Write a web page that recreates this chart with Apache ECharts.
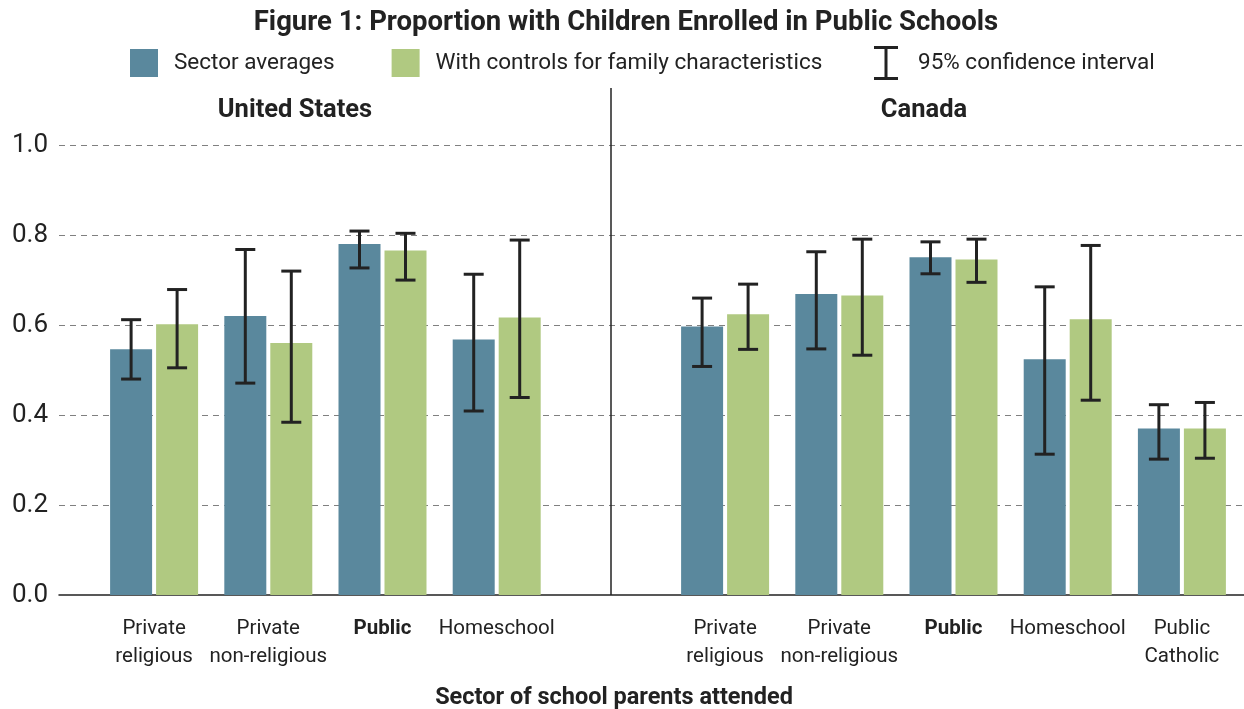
<!DOCTYPE html>
<html>
<head>
<meta charset="utf-8">
<script src="https://cdn.jsdelivr.net/npm/echarts@6/dist/echarts.min.js"></script>
<style>
  html, body { margin: 0; padding: 0; background: #fff; }
  #chart { width: 1244px; height: 709px; }
</style>
</head>
<body>
<div id="chart"></div>
<script>
// categories of each panel
const usSectors = ['Private\nreligious', 'Private\nnon-religious', 'Public', 'Homeschool']
const caSectors = ['Private\nreligious', 'Private\nnon-religious', 'Public', 'Homeschool', 'Public\nCatholic']

// sector averages
const usAverage = [0.546, 0.620, 0.780, 0.568]
const usAverageLow = [0.480, 0.471, 0.727, 0.409]
const usAverageHigh = [0.612, 0.768, 0.809, 0.713]
const caAverage = [0.597, 0.669, 0.751, 0.524, 0.370]
const caAverageLow = [0.508, 0.547, 0.714, 0.313, 0.302]
const caAverageHigh = [0.660, 0.763, 0.785, 0.685, 0.423]

// with controls for family characteristics
const usControlled = [0.602, 0.560, 0.766, 0.617]
const usControlledLow = [0.505, 0.384, 0.700, 0.439]
const usControlledHigh = [0.679, 0.720, 0.804, 0.789]
const caControlled = [0.624, 0.666, 0.746, 0.613, 0.370]
const caControlledLow = [0.546, 0.533, 0.695, 0.433, 0.304]
const caControlledHigh = [0.691, 0.791, 0.791, 0.777, 0.428]

const yTicks = [0, 0.2, 0.4, 0.6, 0.8, 1.0]

const FONT = 'Roboto, "Noto Sans", sans-serif'
const INK = '#222'
const BLUE = '#5a889d'
const GREEN = '#b0c981'

// one empty slot between the two panels
const categories = [...usSectors, ' ', ...caSectors]
const join = (a, b) => [...a, null, ...b]
const averages = join(usAverage, caAverage)
const controlled = join(usControlled, caControlled)
const toRanges = (low, high) =>
  low.map((v, i) => (v == null ? null : [i, v, high[i]])).filter((d) => d)
const averageRanges = toRanges(join(usAverageLow, caAverageLow), join(usAverageHigh, caAverageHigh))
const controlledRanges = toRanges(join(usControlledLow, caControlledLow), join(usControlledHigh, caControlledHigh))

const errorBar = (offset) => (params, api) => {
  const top = api.coord([api.value(0), api.value(2)])
  const bot = api.coord([api.value(0), api.value(1)])
  const x = top[0] + offset
  const style = { stroke: INK, lineWidth: 3 }
  return {
    type: 'group',
    children: [
      { type: 'line', shape: { x1: x, y1: top[1], x2: x, y2: bot[1] }, style },
      { type: 'line', shape: { x1: x - 10, y1: top[1], x2: x + 10, y2: top[1] }, style },
      { type: 'line', shape: { x1: x - 10, y1: bot[1], x2: x + 10, y2: bot[1] }, style },
    ],
  }
}

const chart = echarts.init(document.getElementById('chart'))
const yMax = 1.127
const option = {
  backgroundColor: '#fff',
  animation: false,
  textStyle: { fontFamily: FONT, color: INK },
  title: [
    {
      text: 'Figure 1: Proportion with Children Enrolled in Public Schools',
      left: 621, top: 4, textAlign: 'center',
      textStyle: { fontSize: 27.5, fontWeight: 'bold', color: INK, fontFamily: FONT },
    },
    {
      text: 'United States', left: 290, top: 93, textAlign: 'center',
      textStyle: { fontSize: 25.5, fontWeight: 'bold', color: INK, fontFamily: FONT },
    },
    {
      text: 'Canada', left: 919, top: 93, textAlign: 'center',
      textStyle: { fontSize: 25.5, fontWeight: 'bold', color: INK, fontFamily: FONT },
    },
    {
      text: 'Sector of school parents attended', left: 609, top: 681, textAlign: 'center',
      textStyle: { fontSize: 23.5, fontWeight: 'bold', color: INK, fontFamily: FONT },
    },
  ],
  legend: [
    {
      left: 125, top: 44, itemWidth: 28, itemHeight: 28, itemGap: 57, icon: 'rect',
      data: ['Sector averages', 'With controls for family characteristics'],
      textStyle: { fontSize: 22.5, color: INK, fontFamily: FONT, padding: [0, 0, 0, 11] },
    },
    {
      left: 869, top: 41, itemWidth: 24, itemHeight: 34,
      data: [{
        name: '95% confidence interval',
        icon: 'path://M0,0H24V3H13.5V31H24V34H0V31H10.5V3H0Z',
      }],
      textStyle: { fontSize: 22.5, color: INK, fontFamily: FONT, padding: [0, 0, 0, 15] },
    },
  ],
  grid: [
    { left: 59, right: 0, top: 88, bottom: 114 },
    { left: 97, right: 5, top: 88, bottom: 114 },
  ],
  xAxis: [
    {
      gridIndex: 0, type: 'value', min: 0, max: 1,
      axisLine: { show: true, lineStyle: { color: INK, width: 1.5 } },
      axisTick: { show: false }, axisLabel: { show: false }, splitLine: { show: false },
    },
    {
      gridIndex: 1, type: 'category', data: categories,
      axisLine: { show: false }, axisTick: { show: false },
      axisLabel: {
        interval: 0, margin: 20, fontSize: 20.5, lineHeight: 28, color: INK, fontFamily: FONT,
        formatter: (v) => (v === 'Public' ? '{b|Public}' : v),
        rich: { b: { fontWeight: 'bold', fontSize: 20.5, lineHeight: 28, color: INK, fontFamily: FONT } },
      },
    },
  ],
  yAxis: [
    {
      gridIndex: 0, type: 'value', min: 0, max: yMax, interval: 0.2,
      axisLine: { show: false }, axisTick: { show: false },
      axisLabel: {
        fontSize: 26, color: INK, margin: 11, fontFamily: FONT,
        formatter: (v) => (yTicks.some((t) => Math.abs(t - v) < 1e-6) ? v.toFixed(1) : ''),
      },
      splitLine: {
        showMinLine: false, showMaxLine: false,
        lineStyle: { color: '#808080', type: [6, 5], width: 1 },
      },
    },
    {
      gridIndex: 1, type: 'value', min: 0, max: yMax, interval: 0.2,
      show: false, splitLine: { show: false },
    },
  ],
  series: [
    {
      name: 'Sector averages', type: 'bar', xAxisIndex: 1, yAxisIndex: 1,
      data: averages, barWidth: 42, barGap: '9.5%',
      itemStyle: { color: BLUE },
    },
    {
      name: 'With controls for family characteristics', type: 'bar', xAxisIndex: 1, yAxisIndex: 1,
      data: controlled, barWidth: 42,
      itemStyle: { color: GREEN },
    },
    {
      name: '95% confidence interval', type: 'custom', xAxisIndex: 1, yAxisIndex: 1,
      renderItem: errorBar(-23), data: averageRanges, encode: { x: 0, y: [1, 2] },
      itemStyle: { color: INK }, z: 5,
      // panel divider in the empty slot
      markLine: {
        silent: true, symbol: 'none', label: { show: false },
        lineStyle: { color: INK, width: 1.5, type: 'solid' },
        data: [{ xAxis: 4 }],
      },
    },
    {
      name: '95% confidence interval', type: 'custom', xAxisIndex: 1, yAxisIndex: 1,
      renderItem: errorBar(23), data: controlledRanges, encode: { x: 0, y: [1, 2] },
      itemStyle: { color: INK }, z: 5,
    },
  ],
}
chart.setOption(option)
</script>
</body>
</html>
